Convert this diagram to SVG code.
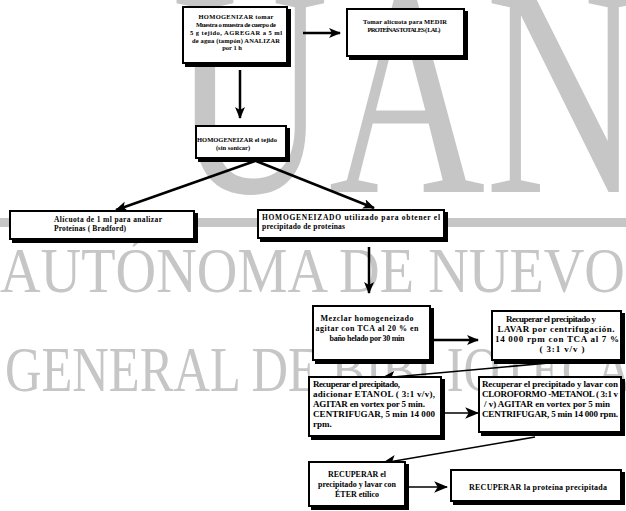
<svg xmlns="http://www.w3.org/2000/svg" width="626" height="511" viewBox="0 0 626 511">
<style>
.wm{fill:#c6c6c6;font-family:"Liberation Serif","Times New Roman",serif}
.sh{fill:#000}
.bx{fill:#fff;stroke:#000;stroke-width:2}
.t{font-family:"Liberation Serif","Times New Roman",serif;font-weight:bold;fill:#000}
.s6{font-size:6.5px}
.s7{font-size:7.5px}
.s75{font-size:8px}
.s8{font-size:9px}
.c{stroke:#000;fill:none;stroke-width:2.5}
.cn{stroke:#000;fill:none;stroke-width:1.6}
</style>
<defs>
<marker id="ah" viewBox="0 0 12 10" refX="11" refY="5" markerWidth="12" markerHeight="10" markerUnits="userSpaceOnUse" orient="auto">
<path d="M0,0 L12,5 L0,10 L3,5 Z" fill="#000"/>
</marker>
<marker id="ahs" viewBox="0 0 12 10" refX="11" refY="5" markerWidth="14" markerHeight="12" markerUnits="userSpaceOnUse" orient="auto">
<path d="M0,0 L12,5 L0,10 L3,5 Z" fill="#000"/>
</marker>
</defs>
<rect width="626" height="511" fill="#fff"/>
<g id="watermark">
<text class="wm" x="172" y="192" font-size="300" textLength="470" lengthAdjust="spacingAndGlyphs">UAN</text>
<rect x="0" y="218" width="626" height="9" fill="#c6c6c6"/>
<text class="wm" x="0" y="292" font-size="63" textLength="625" lengthAdjust="spacingAndGlyphs">AUTÓNOMA DE NUEVO</text>
<text class="wm" x="5" y="391" font-size="63" textLength="655" lengthAdjust="spacingAndGlyphs">GENERAL DE BIBLIOTECAS</text>
</g>
<g id="connectors">
<line class="c" x1="303" y1="33" x2="340" y2="33" marker-end="url(#ah)"/>
<line class="c" x1="240" y1="70" x2="240" y2="118" marker-end="url(#ah)"/>
<line class="c" x1="255" y1="161" x2="116" y2="210" marker-end="url(#ah)"/>
<line class="c" x1="256" y1="161" x2="374" y2="208" marker-end="url(#ah)"/>
<line class="c" x1="369" y1="247" x2="369" y2="293" marker-end="url(#ah)"/>
<line class="c" x1="434" y1="340" x2="478" y2="340" marker-end="url(#ah)"/>
<line class="cn" x1="560" y1="362" x2="382" y2="378" marker-end="url(#ahs)"/>
<line class="cn" x1="444" y1="413" x2="478" y2="413" marker-end="url(#ahs)"/>
<line class="cn" x1="535" y1="437" x2="383" y2="463" marker-end="url(#ahs)"/>
<line class="cn" x1="409" y1="487" x2="447" y2="487" marker-end="url(#ahs)"/>
</g>
<g id="n1">
<rect class="sh" x="185" y="9" width="106" height="58"/>
<rect class="bx" x="183" y="7" width="104" height="56"/>
<text class="t s6" x="236" y="19" text-anchor="middle" textLength="75">HOMOGENIZAR   tomar</text>
<text class="t s6" x="236" y="27" text-anchor="middle" textLength="80">Muestra o muestra de cuerpo de</text>
<text class="t s6" x="236" y="35" text-anchor="middle" textLength="92">5 g tejido,   AGREGAR  a 5 ml</text>
<text class="t s6" x="236" y="43" text-anchor="middle" textLength="88">de agua (tampón)   ANALIZAR</text>
<text class="t s6" x="232" y="50" text-anchor="middle">por 1 h</text>
</g>
<g id="n2">
<rect class="sh" x="349" y="11" width="119" height="49"/>
<rect class="bx" x="347" y="9" width="117" height="47"/>
<text class="t s6" x="405" y="24" text-anchor="middle" textLength="84">Tomar alícuota para   MEDIR</text>
<text class="t s6" x="404" y="32" text-anchor="middle" textLength="73">PROTEÍNAS TOTALES    ( LAL)</text>
</g>
<g id="n3">
<rect class="sh" x="198" y="128" width="92" height="34"/>
<rect class="bx" x="196" y="126" width="90" height="32"/>
<text class="t s6" x="237" y="142" text-anchor="middle" textLength="80">HOMOGENEIZAR el   tejido</text>
<text class="t s6" x="233" y="150" text-anchor="middle">(sin sonicar)</text>
</g>
<g id="n4">
<rect class="sh" x="12" y="213" width="186" height="30"/>
<rect class="bx" x="10" y="211" width="184" height="28"/>
<text class="t s7" x="54" y="222" textLength="108">Alícuota de 1 ml para analizar</text>
<text class="t s7" x="54" y="231" textLength="72">Proteínas ( Bradford)</text>
</g>
<g id="n5">
<rect class="sh" x="260" y="212" width="188" height="30"/>
<rect class="bx" x="258" y="210" width="186" height="28"/>
<text class="t s7" x="262" y="220" textLength="178">HOMOGENEIZADO utilizado para obtener el</text>
<text class="t s7" x="262" y="229" textLength="83">precipitado de proteínas</text>
</g>
<g id="n6">
<rect class="sh" x="315" y="308" width="119" height="56"/>
<rect class="bx" x="313" y="306" width="117" height="54"/>
<text class="t s75" x="367" y="321" text-anchor="middle" textLength="93">Mezclar homogeneizado</text>
<text class="t s75" x="367" y="331" text-anchor="middle" textLength="103">agitar con TCA al 20 % en</text>
<text class="t s75" x="367" y="341" text-anchor="middle" textLength="75">baño helado por 30 min</text>
</g>
<g id="n7">
<rect class="sh" x="494" y="313" width="131" height="51"/>
<rect class="bx" x="492" y="311" width="129" height="49"/>
<text class="t s8" x="551" y="322" text-anchor="middle" textLength="90">Recuperar el precipitado y</text>
<text class="t s8" x="556" y="332" text-anchor="middle" textLength="117">LAVAR por centrifugación.</text>
<text class="t s8" x="557" y="342" text-anchor="middle" textLength="124">14 000 rpm con TCA al 7 %</text>
<text class="t s8" x="562" y="352" text-anchor="middle" textLength="45">( 3:1 v/v )</text>
</g>
<g id="n8">
<rect class="sh" x="311" y="379" width="134" height="61"/>
<rect class="bx" x="309" y="377" width="132" height="59"/>
<text class="t s8" x="313" y="387" textLength="87">Recuperar el precipitado,</text>
<text class="t s8" x="313" y="397" textLength="122">adicionar ETANOL ( 3:1 v/v),</text>
<text class="t s8" x="313" y="407" textLength="112">AGITAR en vortex por 5 min.</text>
<text class="t s8" x="313" y="417" textLength="122">CENTRIFUGAR, 5 min 14 000</text>
<text class="t s8" x="313" y="427">rpm.</text>
</g>
<g id="n9">
<rect class="sh" x="481" y="379" width="144" height="57"/>
<rect class="bx" x="479" y="377" width="142" height="55"/>
<text class="t s8" x="482" y="387" textLength="136">Recuperar el precipitado y lavar con</text>
<text class="t s8" x="482" y="397" textLength="136">CLOROFORMO -METANOL ( 3:1 v</text>
<text class="t s8" x="484" y="407" textLength="126">/ v)   AGITAR en vortex por 5 min</text>
<text class="t s8" x="482" y="417" textLength="136">CENTRIFUGAR, 5 min 14 000 rpm.</text>
</g>
<g id="n10">
<rect class="sh" x="311" y="464" width="98" height="46"/>
<rect class="bx" x="309" y="462" width="96" height="44"/>
<text class="t s75" x="357" y="477" text-anchor="middle" textLength="58">RECUPERAR  el</text>
<text class="t s75" x="357" y="487" text-anchor="middle" textLength="78">precipitado y lavar con</text>
<text class="t s75" x="357" y="497" text-anchor="middle" textLength="44">ÉTER etílico</text>
</g>
<g id="n11">
<rect class="sh" x="453" y="472" width="172" height="33"/>
<rect class="bx" x="451" y="470" width="170" height="31"/>
<text class="t s75" x="538" y="490" text-anchor="middle" textLength="138">RECUPERAR  la proteína precipitada</text>
</g>
</svg>
